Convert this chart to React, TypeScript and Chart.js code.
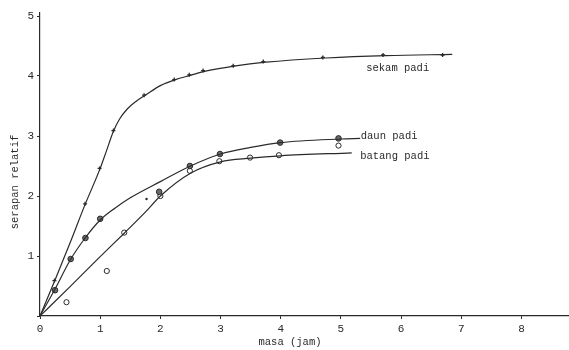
import React, { useEffect, useRef } from "react";
import { Chart, registerables } from "chart.js";

Chart.register(...registerables);

// Measured points (x = masa in jam, y = serapan relatif)
const sekamX = [0.24, 0.75, 0.99, 1.22, 1.73, 2.23, 2.48, 2.71, 3.21, 3.71, 4.7, 5.7, 6.69];
const sekamY = [0.59, 1.87, 2.46, 3.09, 3.68, 3.94, 4.02, 4.09, 4.17, 4.24, 4.31, 4.35, 4.35];

const daunX = [0.25, 0.51, 0.755, 1.0, 1.98, 2.49, 2.99, 3.99, 4.96];
const daunY = [0.43, 0.95, 1.3, 1.62, 2.07, 2.5, 2.7, 2.89, 2.96];

const batangX = [0.44, 1.11, 1.4, 2.0, 2.49, 2.98, 3.49, 3.97, 4.96];
const batangY = [0.23, 0.75, 1.39, 2.0, 2.42, 2.58, 2.64, 2.68, 2.84];

const strayX = [1.77];
const strayY = [1.95];

// Fitted curves as drawn in the figure
const sekamCurveX = [0, 0.25, 0.5, 0.75, 1.0, 1.1, 1.22, 1.32, 1.45, 1.6, 1.75, 2.0, 2.25, 2.5, 2.75, 3.25, 3.75, 4.75, 5.75, 6.85];
const sekamCurveY = [0, 0.6, 1.22, 1.86, 2.46, 2.74, 3.08, 3.28, 3.45, 3.58, 3.68, 3.84, 3.94, 4.01, 4.08, 4.17, 4.23, 4.3, 4.34, 4.36];

const daunCurveX = [0, 0.25, 0.5, 0.75, 1.0, 1.25, 1.5, 2.0, 2.5, 3.0, 3.5, 4.0, 5.0, 5.32];
const daunCurveY = [0, 0.45, 0.93, 1.3, 1.6, 1.8, 1.97, 2.24, 2.5, 2.7, 2.81, 2.89, 2.95, 2.96];

const batangCurveX = [0, 0.5, 1.0, 1.4, 1.75, 2.0, 2.5, 3.0, 3.5, 4.0, 5.18];
const batangCurveY = [0, 0.49, 0.99, 1.38, 1.73, 2.0, 2.38, 2.57, 2.63, 2.67, 2.72];

const curveLabels = [
  { text: "sekam padi", x: 5.42, y: 4.13 },
  { text: "daun padi", x: 5.33, y: 3.0 },
  { text: "batang padi", x: 5.32, y: 2.67 },
];

const xTitle = "masa (jam)";
const yTitle = "serapan relatif";

const INK = "#2a2a2a";
const FONT = "'Liberation Mono', 'DejaVu Sans Mono', monospace";

const pts = (xs: number[], ys: number[]) => xs.map((x, i) => ({ x, y: ys[i] }));

export default function App() {
  const ref = useRef<HTMLCanvasElement | null>(null);

  useEffect(() => {
    if (!ref.current) return;
    const labelPlugin = {
      id: "labels",
      afterDraw(chart: any) {
        const ctx = chart.ctx;
        const xs = chart.scales.x;
        const ys = chart.scales.y;
        ctx.save();
        ctx.fillStyle = INK;
        ctx.font = `10.5px ${FONT}`;
        ctx.textBaseline = "middle";
        ctx.textAlign = "left";
        curveLabels.forEach((l) => {
          ctx.fillText(l.text, xs.getPixelForValue(l.x), ys.getPixelForValue(l.y));
        });
        ctx.textAlign = "center";
        ctx.fillText(xTitle, 290, 342);
        ctx.translate(15, 182);
        ctx.rotate(-Math.PI / 2);
        ctx.fillText(yTitle, 0, 0);
        ctx.restore();
      },
    };

    const curve = (xs: number[], ys: number[]) =>
      ({
        data: pts(xs, ys),
        showLine: true,
        borderColor: INK,
        borderWidth: 1.2,
        pointRadius: 0,
        cubicInterpolationMode: "monotone",
      } as any);

    const chart = new Chart(ref.current, {
      type: "scatter",
      data: {
        datasets: [
          curve(sekamCurveX, sekamCurveY),
          curve(daunCurveX, daunCurveY),
          curve(batangCurveX, batangCurveY),
          {
            data: pts(sekamX, sekamY),
            pointStyle: "cross",
            pointRadius: 2,
            borderColor: INK,
            borderWidth: 1.3,
          },
          {
            data: pts(daunX, daunY),
            pointStyle: "circle",
            pointRadius: 2.8,
            backgroundColor: "#6a6a6a",
            borderColor: INK,
            borderWidth: 1,
          },
          {
            data: pts(batangX, batangY),
            pointStyle: "circle",
            pointRadius: 2.6,
            backgroundColor: "#ffffff",
            borderColor: INK,
            borderWidth: 1,
          },
          {
            data: pts(strayX, strayY),
            pointStyle: "circle",
            pointRadius: 1.2,
            backgroundColor: INK,
            borderColor: INK,
            borderWidth: 0,
          },
        ],
      },
      options: {
        animation: false,
        responsive: true,
        maintainAspectRatio: false,
        layout: { autoPadding: false, padding: { top: 13, right: 0, left: 0, bottom: 0 } },
        plugins: { legend: { display: false }, tooltip: { enabled: false } },
        scales: {
          x: {
            type: "linear",
            min: 0,
            max: 8.79,
            border: { display: true, color: INK, width: 1.2 },
            grid: { drawOnChartArea: false, drawTicks: true, tickLength: 3, color: INK },
            ticks: {
              stepSize: 1,
              includeBounds: false,
              color: INK,
              padding: 3,
              font: { family: FONT, size: 11 },
              maxRotation: 0,
            },
            afterFit: (s: any) => {
              s.height = 34;
              s.paddingRight = 0;
            },
          },
          y: {
            type: "linear",
            min: 0,
            max: 5.05,
            border: { display: true, color: INK, width: 1.2 },
            grid: { drawOnChartArea: false, drawTicks: true, tickLength: 3, color: INK },
            ticks: {
              stepSize: 1,
              includeBounds: false,
              color: INK,
              padding: 3,
              font: { family: FONT, size: 11 },
              callback: (v: any) => (v === 0 ? "" : String(v)),
            },
            afterFit: (s: any) => {
              s.width = 40;
            },
          },
        },
      },
      plugins: [labelPlugin],
    });
    return () => chart.destroy();
  }, []);

  return (
    <div style={{ position: "absolute", left: 0, top: 0, width: 569, height: 350, background: "#fff" }}>
      <canvas ref={ref} />
    </div>
  );
}
